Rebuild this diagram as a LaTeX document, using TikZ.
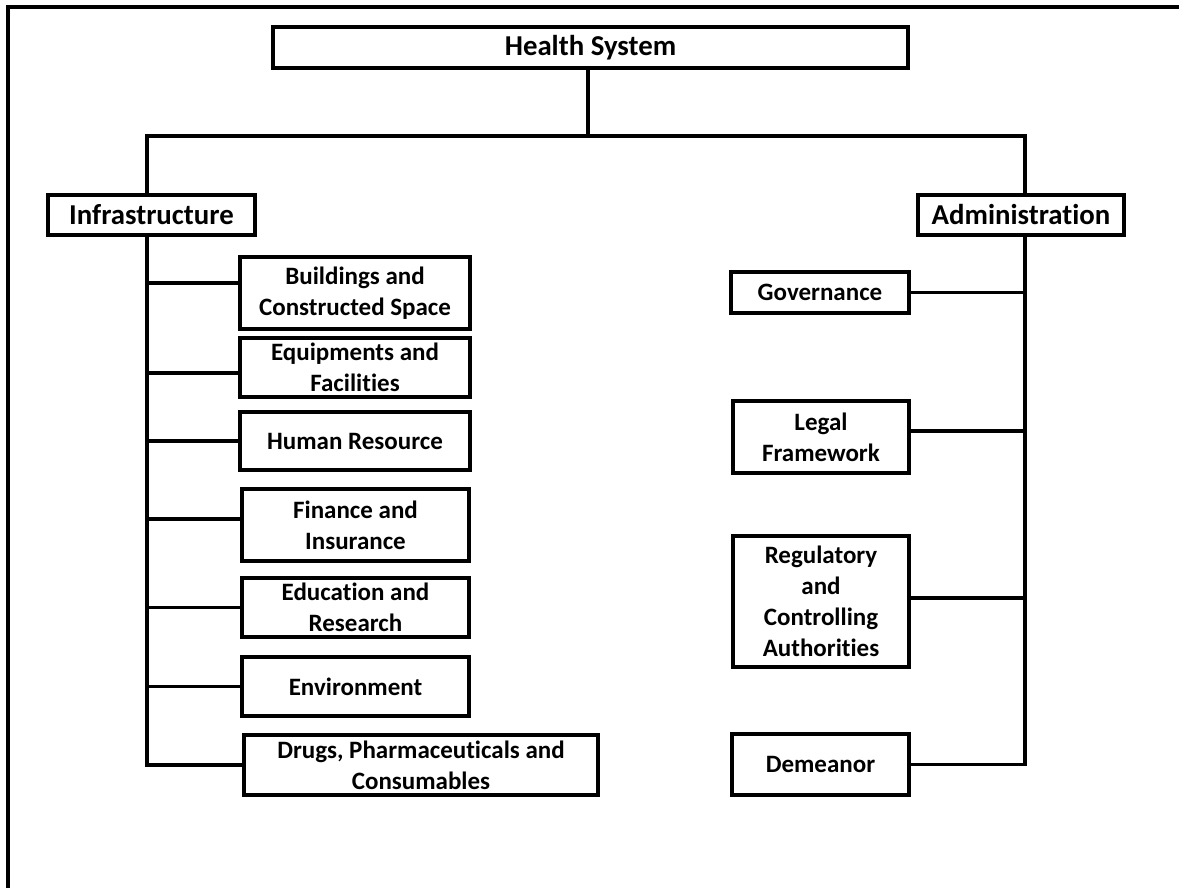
\documentclass[tikz,border=0pt]{standalone}
\usepackage{fontspec}
\setmainfont{Carlito}[Ligatures=NoCommon]
\begin{document}
\begin{tikzpicture}[x=0.5pt,y=-0.5pt,
  box/.style={draw, line width=1.8pt, inner sep=0pt, align=center,
              font=\bfseries\fontsize{12.5}{15.5}\selectfont},
  headbox/.style={box, font=\bfseries\fontsize{14.4}{17}\selectfont},
  link/.style={line width=1.8pt, line join=miter}]
\useasboundingbox (0,0) rectangle (1179,888);
% page frame (left and top edges)
\draw[line width=1.8pt] (8,888) -- (8,7) -- (1179,7);

% top level
\node[headbox, minimum width=317.5pt, minimum height=20.5pt] (hs) at (590.5,47.5) {Health System};
\node[headbox, minimum width=103.5pt, minimum height=20pt] (infra) at (151.5,215) {Infrastructure};
\node[headbox, minimum width=103pt, minimum height=20pt] (admin) at (1021,215) {Administration};

% spines
\coordinate (ls) at (147,235);
\coordinate (rs) at (1025,235);
\coordinate (hub) at (588,136);

% infrastructure branch
\node[box, minimum width=115pt, minimum height=36pt] (build) at (355,293) {Buildings and\\Constructed Space};
\node[box, minimum width=115pt, minimum height=29.5pt] (equip) at (355,367.5) {Equipments and\\Facilities};
\node[box, minimum width=115pt, minimum height=29pt] (human) at (355,441) {Human Resource};
\node[box, minimum width=113.5pt, minimum height=36pt] (fin) at (355.5,525) {Finance and\\Insurance};
\node[box, minimum width=113.5pt, minimum height=29.5pt] (edu) at (355.5,607.5) {Education and\\Research};
\node[box, minimum width=113.5pt, minimum height=29.5pt] (env) at (355.5,686.5) {Environment};
\node[box, minimum width=177pt, minimum height=30pt] (drugs) at (421,765) {Drugs, Pharmaceuticals and\\Consumables};

% administration branch
\node[box, minimum width=89pt, minimum height=20.5pt] (gov) at (820,292.5) {Governance};
\node[box, minimum width=88pt, minimum height=36pt] (legal) at (821,437) {Legal\\Framework};
\node[box, minimum width=88pt, minimum height=65.5pt] (reg) at (821,601.5) {Regulatory\\and\\Controlling\\Authorities};
\node[box, minimum width=88.5pt, minimum height=30.5pt] (dem) at (820.5,764.5) {Demeanor};

% connectors from the top box
\draw[link] (hs.south -| hub) -- (hub);
\draw[link] (infra.north -| ls) |- (hub) -| (admin.north -| rs);

% left spine and its branches
\draw[link] (infra.south -| ls) |- (drugs.west);
\draw[link] ([yshift=5pt]build.west) -- ([yshift=5pt]build.west -| ls);
\draw[link] ([yshift=-2.75pt]equip.west) -- ([yshift=-2.75pt]equip.west -| ls);
\draw[link] (human.west) -- (human.west -| ls);
\draw[link] ([yshift=3pt]fin.west) -- ([yshift=3pt]fin.west -| ls);
\draw[link] (edu.west) -- (edu.west -| ls);
\draw[link] (env.west) -- (env.west -| ls);

% right spine and its branches
\draw[link] (admin.south -| rs) |- (dem.east);
\draw[link] (gov.east) -- (gov.east -| rs);
\draw[link] ([yshift=3pt]legal.east) -- ([yshift=3pt]legal.east -| rs);
\draw[link] ([yshift=1.75pt]reg.east) -- ([yshift=1.75pt]reg.east -| rs);
\end{tikzpicture}
\end{document}
